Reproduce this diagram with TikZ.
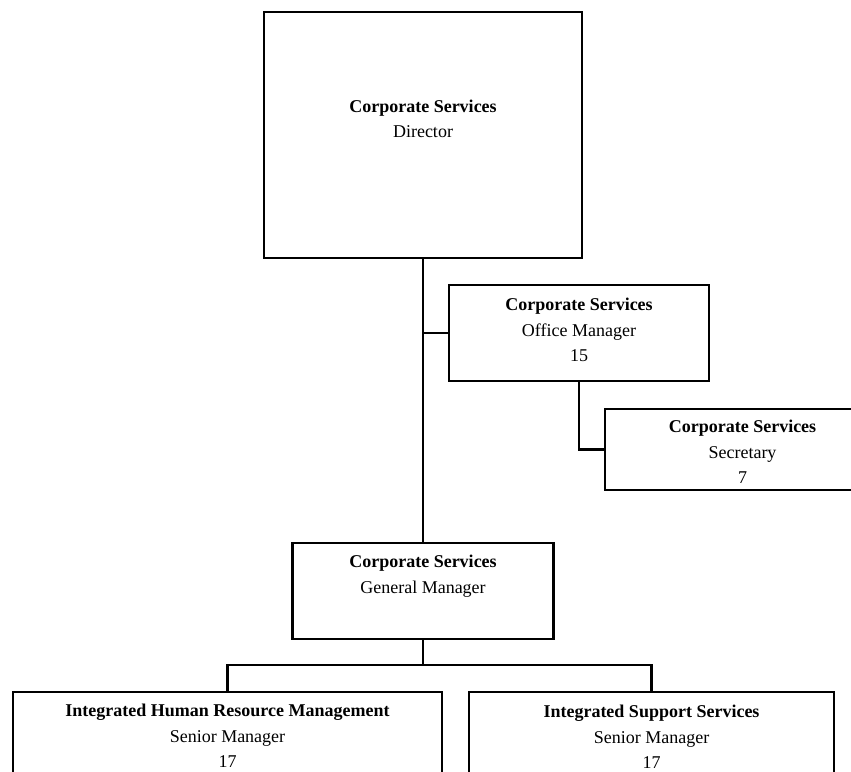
\documentclass[tikz,border=0pt]{standalone}
\usepackage{fontspec}
\setmainfont{Liberation Serif}
\begin{document}
\begin{tikzpicture}[x=1pt,y=-1pt,
  orgbox/.style={draw=black, line width=2.2pt, fill=white, inner sep=0pt},
  lbl/.style={align=center, inner sep=0pt, font=\fontsize{18}{25.5}\selectfont},
  wire/.style={line width=2.2pt}]
  \useasboundingbox (0,0) rectangle (851,771);
  \clip (0,0) rectangle (851,771);

  % boxes
  \node[orgbox, minimum width=318pt, minimum height=246pt] (dir) at (423,135) {};
  \node[orgbox, minimum width=260pt, minimum height=96pt]  (off) at (579,333) {};
  \node[orgbox, minimum width=275pt, minimum height=81pt]  (sec) at (742.5,449.5) {};
  \node[orgbox, minimum width=261pt, minimum height=96pt]  (gm)  at (423,591) {};
  \node[orgbox, minimum width=429pt, minimum height=120pt] (hr)  at (227.5,752) {};
  \node[orgbox, minimum width=365pt, minimum height=120pt] (iss) at (651.5,752) {};

  % connectors
  \coordinate (bus) at (423,665);
  \draw[wire] (dir.south) -- (gm.north);
  \draw[wire] (dir.south |- off.west) -- (off.west);
  \draw[wire] (off.south) |- (sec.west);
  \draw[wire] (gm.south) -- (bus);
  \draw[wire] (hr.north) |- (bus) -| (iss.north);

  % labels
  \node[lbl] (dirtxt) at (423,119) {\textbf{Corporate Services}\\Director};
  \node[lbl] (offtxt) at (579,330) {\textbf{Corporate Services}\\Office Manager\\15};
  \node[lbl] (sectxt) at (742.5,452) {\textbf{Corporate Services}\\Secretary\\7};
  \node[lbl] (gmtxt)  at (423,576) {\textbf{Corporate Services}\\General Manager};
  \node[lbl] (hrtxt)  at (227.5,736) {\textbf{Integrated Human Resource Management}\\Senior Manager\\17};
  \node[lbl] (isstxt) at (651.5,737) {\textbf{Integrated Support Services}\\Senior Manager\\17};
\end{tikzpicture}
\end{document}
